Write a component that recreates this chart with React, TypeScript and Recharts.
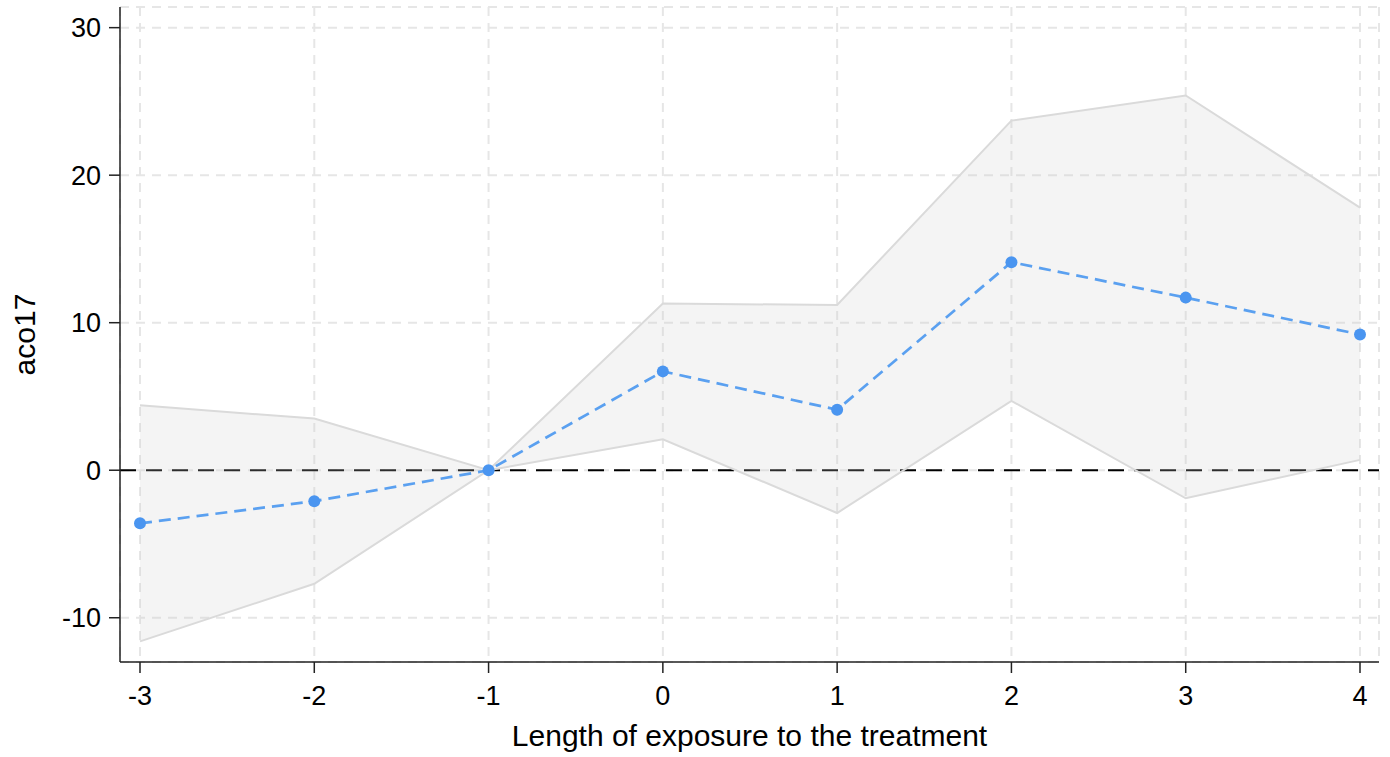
import React from 'react';
import {
  ComposedChart,
  Area,
  Line,
  XAxis,
  YAxis,
  CartesianGrid,
  ReferenceLine,
  Label,
} from 'recharts';

// event-study estimates by period relative to treatment
const periods = [-3, -2, -1, 0, 1, 2, 3, 4];
const estimate = [-3.6, -2.1, 0, 6.7, 4.1, 14.1, 11.7, 9.2];
const ciLow = [-11.6, -7.7, 0, 2.1, -2.9, 4.7, -1.9, 0.7];
const ciHigh = [4.4, 3.5, 0, 11.3, 11.2, 23.7, 25.4, 17.8];
const yTicks = [-10, 0, 10, 20, 30];

const data = periods.map((p, i) => ({
  period: p,
  b: estimate[i],
  ci: [ciLow[i], ciHigh[i]],
}));

const FONT = '"Liberation Sans", Arial, sans-serif';
const tickStyle = { fontSize: 27, fill: '#000', fontFamily: FONT };
const titleStyle = { fontSize: 30, fill: '#000', fontFamily: FONT };

export default function App() {
  return (
    <div style={{ position: 'absolute', left: 0, top: 0, width: 1390, height: 757, background: '#fff' }}>
      <ComposedChart
        width={1390}
        height={757}
        data={data}
        margin={{ top: 7, right: 11, bottom: 0, left: 0 }}
      >
        <CartesianGrid stroke="#e6e6e6" strokeWidth={2} strokeDasharray="9 7" />
        <ReferenceLine y={0} stroke="#000" strokeWidth={2} strokeDasharray="16 10" />
        <Area
          dataKey="ci"
          type="linear"
          stroke="#dadada"
          strokeWidth={2}
          fill="#cfcfcf"
          fillOpacity={0.22}
          zIndex={450}
          isAnimationActive={false}
        />
        <Line
          dataKey="b"
          type="linear"
          stroke="#5aa0f0"
          strokeWidth={2.7}
          strokeDasharray="12 7"
          dot={{ r: 6, fill: '#4a95f0', stroke: 'none' }}
          activeDot={false}
          zIndex={500}
          isAnimationActive={false}
        />
        <XAxis
          dataKey="period"
          type="number"
          domain={[-3, 4]}
          ticks={periods}
          padding={{ left: 20, right: 19 }}
          height={95}
          tickSize={11}
          tickMargin={13}
          tick={tickStyle}
          stroke="#222"
          strokeWidth={1.5}
        >
          <Label
            value="Length of exposure to the treatment"
            position="insideBottom"
            offset={11}
            style={titleStyle}
          />
        </XAxis>
        <YAxis
          type="number"
          domain={[-13, 31.4]}
          ticks={yTicks}
          width={120}
          tickSize={11}
          tickMargin={8}
          tick={tickStyle}
          stroke="#222"
          strokeWidth={1.5}
        >
          <Label
            value="aco17"
            angle={-90}
            position="insideLeft"
            offset={24}
            style={{ ...titleStyle, textAnchor: 'middle' }}
          />
        </YAxis>
      </ComposedChart>
    </div>
  );
}
